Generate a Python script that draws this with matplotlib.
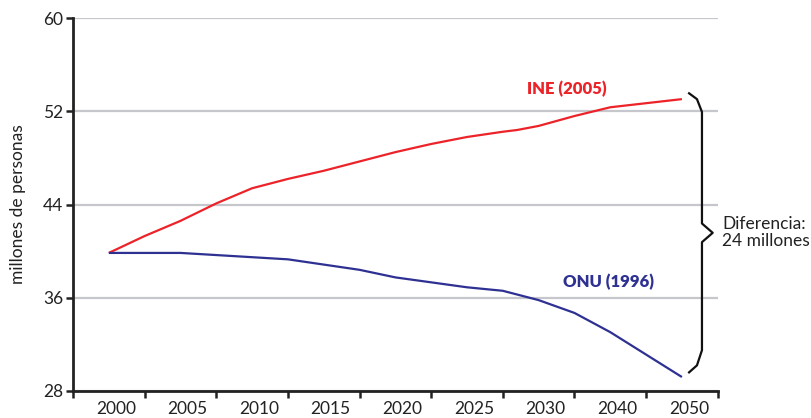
import matplotlib
matplotlib.use("Agg")
import matplotlib.pyplot as plt
import matplotlib.transforms as mtransforms
import numpy as np

plt.rcParams['font.family'] = ['Lato', 'DejaVu Sans']

# category axis (evenly spaced)
years = ['2000', '2005', '2010', '2015', '2020', '2025', '2030', '2040', '2050']

# positions along the category axis (index of year, half steps in between)
ine_pos = [0, 0.5, 1, 1.5, 2, 2.5, 3, 3.5, 4, 4.5, 5, 5.5, 5.7, 6, 6.5, 7, 7.5, 8]
ine_val = [39.85, 41.3, 42.6, 44.1, 45.4, 46.2, 46.9, 47.7, 48.5, 49.2, 49.8, 50.25, 50.4,
           50.75, 51.6, 52.35, 52.7, 53.05]

onu_pos = [0, 1, 2.5, 3.5, 4, 5, 5.5, 6, 6.5, 7, 8]
onu_val = [39.85, 39.85, 39.3, 38.4, 37.75, 36.9, 36.6, 35.8, 34.7, 33.05, 29.2]

red = '#ec2329'
blue = '#2e3192'
ink = '#222222'

fig = plt.figure(figsize=(8.12, 4.18), dpi=100)
ax = fig.add_axes([0.0899, 0.0646, 0.794, 0.892])

ax.plot(ine_pos, ine_val, color=red, lw=1.6, zorder=3, solid_capstyle='butt')
ax.plot(onu_pos, onu_val, color=blue, lw=1.6, zorder=3, solid_capstyle='butt')

ax.set_xlim(-0.5, 8.5)
ax.set_ylim(28, 60)
ax.set_yticks([28, 36, 44, 52, 60])
ax.yaxis.grid(True, color='#c5c7cc', lw=1.6)
ax.set_axisbelow(True)

# boundaries get the tick marks, labels sit in the middle of each slot
ax.set_xticks(np.arange(-0.5, 9, 1))
ax.set_xticklabels([])
ax.set_xticks(np.arange(len(years)), minor=True)
ax.set_xticklabels(years, minor=True)
ax.tick_params(axis='x', which='minor', length=0, pad=7, labelsize=12.5, labelcolor=ink)
ax.tick_params(axis='x', which='major', length=5, width=1.8, direction='out', color=ink)
ax.tick_params(axis='y', length=5, width=1.8, direction='out', color=ink,
               labelsize=12.5, labelcolor=ink, pad=2)
shift = mtransforms.ScaledTranslation(0.07, 0, fig.dpi_scale_trans)
for lab in ax.get_xticklabels(minor=True):
    lab.set_transform(lab.get_transform() + shift)

for s in ['top', 'right']:
    ax.spines[s].set_visible(False)
for s in ['left', 'bottom']:
    ax.spines[s].set_linewidth(2)
    ax.spines[s].set_color(ink)

ax.set_ylabel('millones de personas', fontsize=12.5, color=ink, labelpad=12)

ax.text(6.4, 53.9, 'INE (2005)', color=red, fontsize=12, fontweight='heavy', ha='center', va='center')
ax.text(6.98, 37.35, 'ONU (1996)', color=blue, fontsize=12, fontweight='heavy', ha='center', va='center')

# brace between the two end values
top = ine_val[-1] + 0.5
bot = onu_val[-1] + 0.4
mid = (top + bot) / 2
bx = [8.1, 8.21, 8.28, 8.28, 8.43, 8.28, 8.28, 8.21, 8.1]
by = [top, top - 0.5, top - 1.6, mid + 0.8, mid, mid - 0.8, bot + 1.9, bot + 0.6, bot]
ax.plot(bx, by, color='#111111', lw=1.6, clip_on=False, zorder=4)

ax.text(8.56, mid, 'Diferencia:\n24 millones', fontsize=12.5, color=ink,
        ha='left', va='center', linespacing=1.05, clip_on=False)

fig.savefig('out.png', dpi=100)
